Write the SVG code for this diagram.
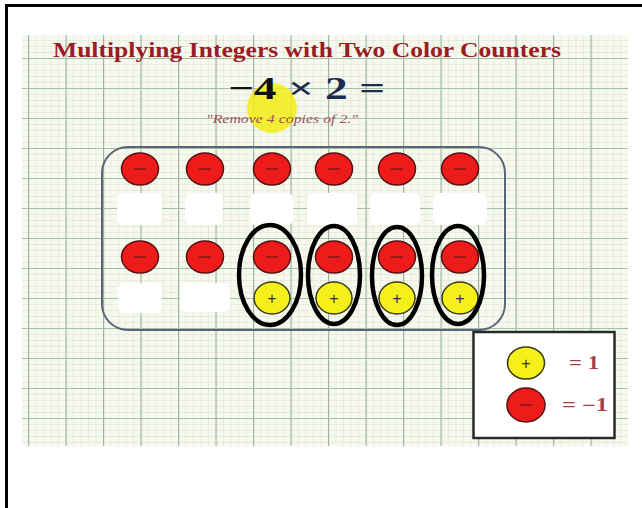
<svg xmlns="http://www.w3.org/2000/svg" width="642" height="508" viewBox="0 0 642 508">
<style>
.title{font-family:"Liberation Serif","DejaVu Serif",serif;font-weight:bold;fill:#9b1c24}
.eq{font-family:"Liberation Serif","DejaVu Serif",serif;font-weight:bold;fill:#1d2c4c}
.sub{font-family:"Liberation Serif","DejaVu Serif",serif;font-style:italic;fill:#a05058}
.neg{fill:#ee1b1b;stroke:#5a1010;stroke-width:1.5}
.pos{fill:#f5f01c;stroke:#3a3a10;stroke-width:1.5}
.sign{font-family:"Liberation Sans","DejaVu Sans",sans-serif;text-anchor:middle;dominant-baseline:central}
.msign{stroke:#8a1818;stroke-width:1.6}
.blob{fill:#ffffff}
.ring{fill:none;stroke:#000;stroke-width:4.5}
.leg{font-family:"Liberation Serif","DejaVu Serif",serif;font-weight:bold;fill:#a0404a;font-size:18px}
</style>
<defs>
<pattern id="minor" x="28" y="28" width="7.5" height="6" patternUnits="userSpaceOnUse">
<path d="M0 0V6" stroke="#d3e6ca" stroke-width="1"/>
<path d="M0 0H7.5" stroke="#e8d6d6" stroke-width="1"/>
</pattern>
<pattern id="major" x="28" y="28" width="37.5" height="30" patternUnits="userSpaceOnUse">
<path d="M0.5 0V30" stroke="#9fb5a0" stroke-width="1.4" fill="none"/>
<path d="M0 0.5H37.5" stroke="#a7bda8" stroke-width="1.2" fill="none"/>
</pattern>
</defs>
<rect x="0" y="0" width="642" height="508" fill="#ffffff"/>
<g id="grid">
<rect x="22" y="35" width="606" height="411" fill="#f6faee"/>
<rect x="22" y="35" width="606" height="411" fill="url(#minor)"/>
<rect x="22" y="35" width="606" height="411" fill="url(#major)"/>
</g>
<g id="frame">
<line x1="5" y1="5.5" x2="642" y2="5.5" stroke="#000" stroke-width="3"/>
<line x1="6.5" y1="4" x2="6.5" y2="508" stroke="#000" stroke-width="3"/>
</g>
<g id="title">
<text class="title" x="307" y="57" font-size="21" text-anchor="middle" textLength="508" lengthAdjust="spacingAndGlyphs">Multiplying Integers with Two Color Counters</text>
</g>
<circle id="highlight" cx="272" cy="108" r="25" fill="#f2ec14" opacity="0.85"/>
<g id="equation">
<text class="eq" x="228" y="99" font-size="32" textLength="157" lengthAdjust="spacingAndGlyphs"><tspan fill="#111">−4</tspan> × 2 =</text>
<text class="sub" x="282" y="123" font-size="12.5" text-anchor="middle" textLength="152" lengthAdjust="spacingAndGlyphs">"Remove 4 copies of  2."</text>
</g>
<g id="mat">
<rect x="102" y="147" width="403" height="183" rx="26" ry="26" fill="none" stroke="#5a6478" stroke-width="2"/>
</g>
<g id="erased">
<rect class="blob" x="117" y="193" width="45" height="32" rx="6"/>
<rect class="blob" x="185" y="193" width="38" height="32" rx="6"/>
<rect class="blob" x="250" y="193" width="43" height="32" rx="6"/>
<rect class="blob" x="307" y="193" width="50" height="32" rx="6"/>
<rect class="blob" x="370" y="193" width="50" height="32" rx="6"/>
<rect class="blob" x="433" y="193" width="54" height="32" rx="6"/>
<rect class="blob" x="118" y="283" width="44" height="30" rx="6"/>
<rect class="blob" x="180" y="283" width="50" height="29" rx="6"/>
</g>
<g id="row1">
<g id="n1"><ellipse class="neg" cx="140" cy="169" rx="18.5" ry="16"/><line class="msign" x1="134" y1="169" x2="146" y2="169"/></g>
<g id="n2"><ellipse class="neg" cx="205" cy="169" rx="18.5" ry="16"/><line class="msign" x1="199" y1="169" x2="211" y2="169"/></g>
<g id="n3"><ellipse class="neg" cx="272" cy="169" rx="18.5" ry="16"/><line class="msign" x1="266" y1="169" x2="278" y2="169"/></g>
<g id="n4"><ellipse class="neg" cx="334" cy="169" rx="18.5" ry="16"/><line class="msign" x1="328" y1="169" x2="340" y2="169"/></g>
<g id="n5"><ellipse class="neg" cx="397" cy="169" rx="18.5" ry="16"/><line class="msign" x1="391" y1="169" x2="403" y2="169"/></g>
<g id="n6"><ellipse class="neg" cx="460" cy="169" rx="18.5" ry="16"/><line class="msign" x1="454" y1="169" x2="466" y2="169"/></g>
</g>
<g id="row3">
<g id="n7"><ellipse class="neg" cx="140" cy="257" rx="18.5" ry="16"/><line class="msign" x1="134" y1="257" x2="146" y2="257"/></g>
<g id="n8"><ellipse class="neg" cx="205" cy="257" rx="18.5" ry="16"/><line class="msign" x1="199" y1="257" x2="211" y2="257"/></g>
<g id="n9"><ellipse class="neg" cx="272" cy="257" rx="18.5" ry="16"/><line class="msign" x1="266" y1="257" x2="278" y2="257"/></g>
<g id="n10"><ellipse class="neg" cx="334" cy="257" rx="18.5" ry="16"/><line class="msign" x1="328" y1="257" x2="340" y2="257"/></g>
<g id="n11"><ellipse class="neg" cx="397" cy="257" rx="18.5" ry="16"/><line class="msign" x1="391" y1="257" x2="403" y2="257"/></g>
<g id="n12"><ellipse class="neg" cx="460" cy="257" rx="18.5" ry="16"/><line class="msign" x1="454" y1="257" x2="466" y2="257"/></g>
</g>
<g id="row4">
<g id="p1"><ellipse class="pos" cx="272" cy="298" rx="18" ry="16"/><text class="sign" x="272" y="298" font-size="16" fill="#333">+</text></g>
<g id="p2"><ellipse class="pos" cx="334" cy="298" rx="18" ry="16"/><text class="sign" x="334" y="298" font-size="16" fill="#333">+</text></g>
<g id="p3"><ellipse class="pos" cx="397" cy="298" rx="18" ry="16"/><text class="sign" x="397" y="298" font-size="16" fill="#333">+</text></g>
<g id="p4"><ellipse class="pos" cx="460" cy="298" rx="18" ry="16"/><text class="sign" x="460" y="298" font-size="16" fill="#333">+</text></g>
</g>
<g id="connectors">
<ellipse class="ring" cx="270" cy="275" rx="31" ry="50"/>
<ellipse class="ring" cx="334" cy="275" rx="26" ry="49"/>
<ellipse class="ring" cx="397" cy="276" rx="25" ry="49"/>
<ellipse class="ring" cx="458" cy="275" rx="26" ry="49"/>
</g>
<g id="legend">
<rect x="473.5" y="332" width="141" height="106" fill="#ffffff" stroke="#2a2a2a" stroke-width="2.5"/>
<g id="legend-pos"><ellipse class="pos" cx="526" cy="363" rx="18.5" ry="16"/><text class="sign" x="526" y="363" font-size="16" fill="#333">+</text>
<text class="leg" x="569" y="369" textLength="30" lengthAdjust="spacingAndGlyphs">= 1</text></g>
<g id="legend-neg"><ellipse class="neg" cx="526" cy="405" rx="19" ry="17"/><line class="msign" x1="520" y1="405" x2="532" y2="405"/>
<text class="leg" x="562" y="411" textLength="46" lengthAdjust="spacingAndGlyphs">= −1</text></g>
</g>
</svg>
